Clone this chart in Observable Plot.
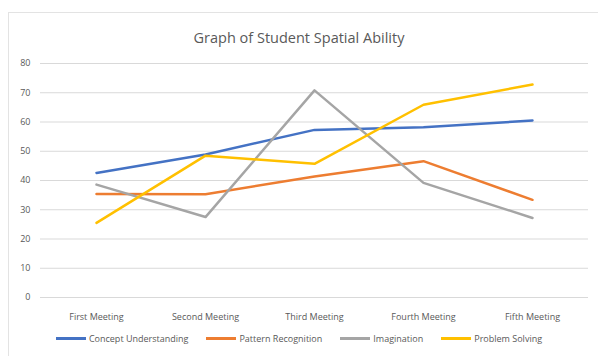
<!DOCTYPE html>
<html>
<head>
<meta charset="utf-8">
<script src="https://cdn.jsdelivr.net/npm/d3@7"></script>
<script src="https://cdn.jsdelivr.net/npm/@observablehq/plot@0.6"></script>
<style>
  body { margin: 0; background: #fff; font-family: "Open Sans", "Liberation Sans", sans-serif; }
  #wrap { position: relative; width: 598px; height: 356px; overflow: hidden; background: #fff; }
  #frame { position: absolute; left: 8px; top: 12px; width: 600px; height: 360px; border: 1px solid #e3e3e3; box-sizing: border-box; }
  #title { position: absolute; left: 0; width: 598px; top: 28px; text-align: center; font-size: 14.5px; color: #595959; }
  #chart { position: absolute; left: 0; top: 55px; }
  #legend { position: absolute; left: 0; width: 598px; top: 332px; display: flex; justify-content: center; gap: 18px; font-size: 9px; color: #595959; }
  .item { display: flex; align-items: center; }
  .sw { width: 30px; height: 2.5px; margin-right: 3px; }
</style>
</head>
<body>
<div id="wrap">
  <div id="frame"></div>
  <div id="title">Graph of Student Spatial Ability</div>
  <div id="chart"></div>
  <div id="legend"></div>
</div>
<script>
const meetings = ["First Meeting", "Second Meeting", "Third Meeting", "Fourth Meeting", "Fifth Meeting"];
const seriesNames = ["Concept Understanding", "Pattern Recognition", "Imagination", "Problem Solving"];
const conceptUnderstanding = [42.6, 48.9, 57.3, 58.2, 60.5];
const patternRecognition = [35.4, 35.3, 41.4, 46.6, 33.4];
const imagination = [38.6, 27.5, 70.8, 39.2, 27.2];
const problemSolving = [25.5, 48.5, 45.7, 65.9, 72.8];
const yTicks = [0, 10, 20, 30, 40, 50, 60, 70, 80];
const colors = ["#4472C4", "#ED7D31", "#A5A5A5", "#FFC000"];

const allSeries = [conceptUnderstanding, patternRecognition, imagination, problemSolving];
const data = [];
seriesNames.forEach((name, i) => {
  meetings.forEach((m, j) => data.push({series: name, meeting: m, value: allSeries[i][j]}));
});

const chart = Plot.plot({
  width: 598,
  height: 275,
  marginLeft: 40,
  marginRight: 10,
  marginTop: 8,
  marginBottom: 33,
  style: { fontFamily: "Open Sans, Liberation Sans, sans-serif", fontSize: "9px", color: "#595959", background: "transparent" },
  x: { type: "point", domain: meetings, padding: 0.5, label: null },
  y: { domain: [0, 80], label: null },
  color: { domain: seriesNames, range: colors },
  marks: [
    Plot.gridY(yTicks, { stroke: "#d9d9d9", strokeOpacity: 1, strokeWidth: 1 }),
    Plot.axisY(yTicks, { tickSize: 0, tickPadding: 10, fill: "#595959", label: null }),
    Plot.axisX({ tickSize: 0, tickPadding: 16, fill: "#595959", label: null }),
    Plot.line(data, { x: "meeting", y: "value", z: "series", stroke: "series", strokeWidth: 2.5, strokeLinejoin: "round", strokeLinecap: "round" })
  ]
});
document.getElementById("chart").appendChild(chart);

const legend = document.getElementById("legend");
seriesNames.forEach((name, i) => {
  const it = document.createElement("div");
  it.className = "item";
  const sw = document.createElement("div");
  sw.className = "sw";
  sw.style.background = colors[i];
  const tx = document.createElement("span");
  tx.textContent = name;
  it.appendChild(sw);
  it.appendChild(tx);
  legend.appendChild(it);
});
</script>
</body>
</html>
